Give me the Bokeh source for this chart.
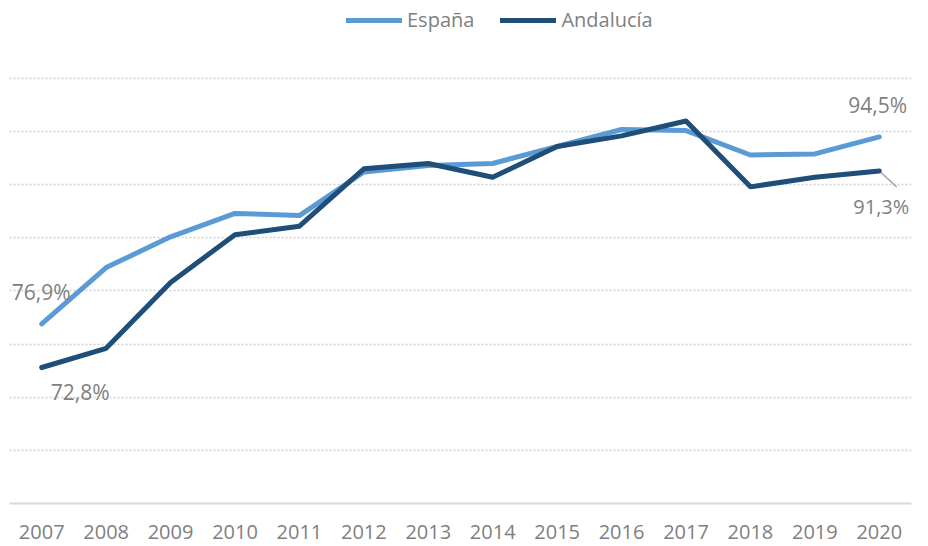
from bokeh.plotting import figure
from bokeh.models import Range1d, FixedTicker, Legend, LegendItem, Grid, Label
from bokeh.embed import file_html
from bokeh.resources import INLINE

years = ["2007", "2008", "2009", "2010", "2011", "2012", "2013",
         "2014", "2015", "2016", "2017", "2018", "2019", "2020"]
espana = [76.9, 82.2, 85.1, 87.3, 87.1, 91.2, 91.8, 92.0, 93.6, 95.2, 95.1, 92.8, 92.9, 94.5]
andalucia = [72.8, 74.6, 80.8, 85.3, 86.1, 91.5, 92.0, 90.7, 93.6, 94.6, 96.0, 89.8, 90.7, 91.3]
grid_ticks = [65, 70, 75, 80, 85, 90, 95, 100]

FONT = "Open Sans"
GREY = "#7F7F7F"
C_ES = "#5B9BD5"
C_AN = "#1F4E79"

xs = list(range(len(years)))


def fmt(v):
    return f"{v:.1f}".replace(".", ",") + "%"


p = figure(width=928, height=546, x_range=Range1d(-0.5, len(years) - 0.5), y_range=Range1d(60, 107.34),
           y_axis_location=None, output_backend="svg", toolbar_location=None,
           min_border_left=9, min_border_right=17, min_border_top=0, min_border_bottom=43)
p.outline_line_color = None
p.background_fill_color = "white"
for g in p.grid:
    g.visible = False
p.add_layout(Grid(dimension=1, ticker=FixedTicker(ticks=grid_ticks),
                  grid_line_color="#D0D0D0", grid_line_width=1.3, grid_line_dash="2 2"))

ax = p.xaxis[0]
ax.ticker = FixedTicker(ticks=xs)
ax.major_label_overrides = {i: y for i, y in zip(xs, years)}
ax.axis_line_color = "#D9D9D9"
ax.axis_line_width = 2
ax.major_tick_line_color = None
ax.minor_tick_line_color = None
ax.major_label_standoff = 15
ax.major_label_text_font = FONT
ax.major_label_text_font_size = "20px"
ax.major_label_text_color = GREY

# leader line for the last Andalucía label
p.segment(x0=[xs[-1]], y0=[andalucia[-1]], x1=[xs[-1] + 0.27], y1=[andalucia[-1] - 1.5],
          line_color="#A6A6A6", line_width=1.5)

r_es = p.line(xs, espana, line_color=C_ES, line_width=5, line_cap="round", line_join="round")
r_an = p.line(xs, andalucia, line_color=C_AN, line_width=5, line_cap="round", line_join="round")

label_kw = dict(text_font=FONT, text_font_size="21px", text_color=GREY,
                text_align="left", text_baseline="middle")
p.add_layout(Label(x=xs[0], y=espana[0], text=fmt(espana[0]), x_offset=-30, y_offset=32, **label_kw))
p.add_layout(Label(x=xs[0], y=andalucia[0], text=fmt(andalucia[0]), x_offset=9, y_offset=-25, **label_kw))
p.add_layout(Label(x=xs[-1], y=espana[-1], text=fmt(espana[-1]), x_offset=-31, y_offset=32, **label_kw))
last_kw = dict(label_kw, text_font_size="20px")
p.add_layout(Label(x=xs[-1], y=andalucia[-1], text=fmt(andalucia[-1]), x_offset=-26, y_offset=-36, **last_kw))

legend = Legend(items=[LegendItem(label="España", renderers=[r_es]),
                       LegendItem(label="Andalucía", renderers=[r_an])],
                orientation="horizontal", location=(337, 470),
                glyph_width=56, glyph_height=20, label_standoff=5, spacing=26,
                padding=0, margin=0, border_line_color=None, background_fill_alpha=0,
                label_text_font=FONT, label_text_font_size="20px", label_text_color=GREY)
p.add_layout(legend)

open("out.html", "w").write(file_html(p, INLINE))
